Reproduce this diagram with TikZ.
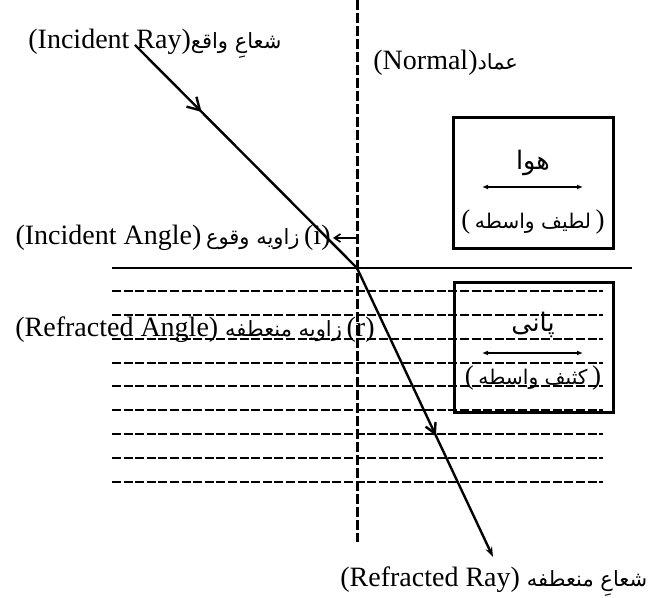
\documentclass[tikz,border=0pt]{standalone}
\usepackage{fontspec}
\setmainfont{Liberation Serif}
\newfontfamily\urdu[Script=Arabic,Scale=0.75]{DejaVu Sans}
\TeXXeTstate=1
\usetikzlibrary{arrows.meta,decorations.markings}

\begin{document}
\begin{tikzpicture}[x=0.5pt,y=-0.5pt,
  lbl/.style={inner sep=0pt,font=\fontsize{14}{16}\selectfont},
  boxtext/.style={inner sep=0pt,font=\fontsize{13.5}{15}\selectfont},
  boxname/.style={inner sep=0pt,font=\fontsize{17}{19}\selectfont},
  ray/.style={line width=1.2pt},
  dashline/.style={line width=1.4pt,dash pattern=on 4.5pt off 1.3pt},
  normalline/.style={line width=1.5pt,dash pattern=on 5pt off 1.5pt},
  medium/.style={line width=1.5pt},
  dblarrow/.style={line width=0.8pt,{Latex[length=3pt,width=2.5pt]}-{Latex[length=3pt,width=2.5pt]}}
]
\useasboundingbox (0,0) rectangle (671,598);

% water layers (dashed)
\foreach \y in {291,315,339,363,386,410,434,458,482}{
  \draw[dashline] (112,\y) -- (603,\y);
}

% normal
\coordinate (NT) at (357,0);
\coordinate (NB) at (357,542);
\draw[normalline] (NT) -- (NB);

% interface
\coordinate (SL) at (112,268);
\coordinate (SR) at (632,268);
\draw[line width=1.3pt] (SL) -- (SR);

% boxes
\coordinate (airNW) at (453,118); \coordinate (airSE) at (613,249);
\draw[medium] (airNW) rectangle (airSE);
\coordinate (watNW) at (454,283); \coordinate (watSE) at (613,413);
\draw[medium] (watNW) rectangle (watSE);

\node[boxname] (airname) at (533,163) {\urdu\beginR هوا\endR};
\coordinate (a1) at (482,187); \coordinate (a2) at (583,187);
\draw[dblarrow] (a1) -- (a2);
\node[boxtext] (airtype) at (533,222) {(\,{\urdu\beginR لطیف واسطه\endR}\,)};

\node[boxname] (watername) at (533,325) {\urdu\beginR پانی\endR};
\coordinate (w1) at (482,353); \coordinate (w2) at (583,353);
\draw[dblarrow] (w1) -- (w2);
\node[boxtext] (watertype) at (533,378) {(\,{\urdu\beginR کثیف واسطه\endR}\,)};

% rays
\coordinate (O) at (357,268);
\coordinate (IS) at (135,45);
\coordinate (RE) at (493,557);
\draw[ray,decoration={markings,mark=at position 0.3 with {\arrow{Straight Barb[length=6pt,width=7pt,line width=1.2pt]}}},postaction={decorate}] (IS) -- (O);
\draw[ray,-{Stealth[length=5pt,width=3.5pt]},decoration={markings,mark=at position 0.58 with {\arrow{Straight Barb[length=5pt,width=5.5pt,line width=1.2pt]}}},postaction={decorate}] (O) -- (RE);

% angle i pointer
\coordinate (iA) at (357,238);
\coordinate (iB) at (333,238);
\draw[line width=0.8pt,-{Straight Barb[length=3pt,width=4pt]}] (iA) -- (iB);

% labels
\node[lbl,anchor=base west] (incray) at (28,49) {(Incident Ray){\urdu\beginR شعاعِ واقع\endR}};
\node[lbl,anchor=base west] (normlbl) at (373,70) {(Normal){\urdu\beginR عماد\endR}};
\node[lbl,anchor=base east] (iang) at (331,245) {(Incident Angle)\,{\urdu\beginR زاویه وقوع\endR}\,(i)};
\node[lbl,anchor=base east] (rang) at (375,337) {(Refracted Angle) {\urdu\beginR زاویه منعطفه\endR}\,(r)};
\node[lbl,anchor=base west] (refray) at (340,587) {(Refracted Ray) {\urdu\beginR شعاعِ منعطفه\endR}};
\end{tikzpicture}
\end{document}
